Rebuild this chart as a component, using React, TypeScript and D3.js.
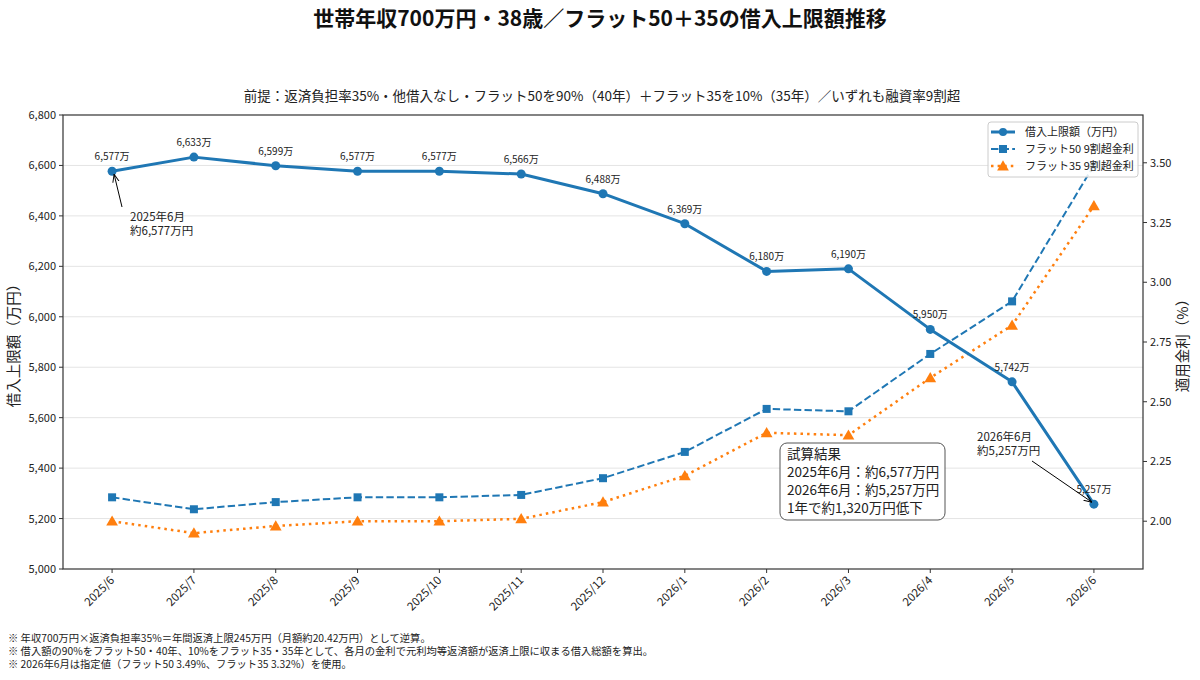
import React from "react";
import * as d3 from "d3";

const months = [
  "2025/6", "2025/7", "2025/8", "2025/9", "2025/10", "2025/11", "2025/12",
  "2026/1", "2026/2", "2026/3", "2026/4", "2026/5", "2026/6",
];
const loanLimit = [6577, 6633, 6599, 6577, 6577, 6566, 6488, 6369, 6180, 6190, 5950, 5742, 5257];
const flat50Rate = [2.1, 2.05, 2.08, 2.1, 2.1, 2.11, 2.18, 2.29, 2.47, 2.46, 2.7, 2.92, 3.49];
const flat35Rate = [2.0, 1.95, 1.98, 2.0, 2.0, 2.01, 2.08, 2.19, 2.37, 2.36, 2.6, 2.82, 3.32];
const leftTicks = [5000, 5200, 5400, 5600, 5800, 6000, 6200, 6400, 6600, 6800];
const rightTicks = [2.0, 2.25, 2.5, 2.75, 3.0, 3.25, 3.5];
const footnotes = [
  "※ 年収700万円×返済負担率35%＝年間返済上限245万円（月額約20.42万円）として逆算。",
  "※ 借入額の90%をフラット50・40年、10%をフラット35・35年として、各月の金利で元利均等返済額が返済上限に収まる借入総額を算出。",
  "※ 2026年6月は指定値（フラット50 3.49%、フラット35 3.32%）を使用。",
];

const W = 1200;
const H = 680;
const left = 63;
const right = 1143;
const top = 115;
const bottom = 569;
const font = "'Noto Sans CJK JP', 'Noto Sans', sans-serif";
const blue = "#1f77b4";
const orange = "#ff7f0e";
const axisColor = "#333";

const x = d3.scaleLinear().domain([-0.6, months.length - 1 + 0.6]).range([left, right]);
const yL = d3.scaleLinear().domain([5000, 6800]).range([bottom, top]);
const yR = d3.scaleLinear().domain([1.8, 3.7]).range([bottom, top]);

const loanLine = d3.line<number>().x((_, i) => x(i)).y((d) => yL(d));
const rateLine = d3.line<number>().x((_, i) => x(i)).y((d) => yR(d));
const tri = d3.symbol(d3.symbolTriangle, 60);

const fmt = d3.format(",");

const App = () => {
  return (
    <svg
      width={W}
      height={H}
      style={{ position: "absolute", left: 0, top: 0, display: "block", background: "#fff", fontFamily: font }}
    >
      <defs>
        <marker id="arr" viewBox="0 0 10 10" refX="10" refY="5" markerWidth="8" markerHeight="8" orient="auto-start-reverse">
          <path d="M0,1 L10,5 L0,9" fill="none" stroke="#000" strokeWidth="1.2" />
        </marker>
      </defs>
      <rect width={W} height={H} fill="#fff" />

      {/* titles */}
      <text x={W / 2} y={26} textAnchor="middle" fontSize={21} fontWeight="bold" fill="#111">
        世帯年収700万円・38歳／フラット50＋35の借入上限額推移
      </text>
      <text x={W / 2 + 2} y={101} textAnchor="middle" fontSize={13.5} fill="#222">
        前提：返済負担率35%・他借入なし・フラット50を90%（40年）＋フラット35を10%（35年）／いずれも融資率9割超
      </text>

      {/* grid */}
      {leftTicks.slice(1, -1).map((t) => (
        <line key={t} x1={left} x2={right} y1={yL(t)} y2={yL(t)} stroke="#e4e4e4" strokeWidth={1} />
      ))}

      {/* rate lines */}
      <path d={rateLine(flat50Rate) || ""} fill="none" stroke={blue} strokeWidth={2} strokeDasharray="7.4,3.2" />
      {flat50Rate.map((d, i) => (
        <rect key={i} x={x(i) - 4} y={yR(d) - 4} width={8} height={8} fill={blue} />
      ))}
      <path d={rateLine(flat35Rate) || ""} fill="none" stroke={orange} strokeWidth={2.5} strokeDasharray="2.5,4.1" />
      {flat35Rate.map((d, i) => (
        <path key={i} d={tri() || ""} transform={`translate(${x(i)},${yR(d) + 1})`} fill={orange} />
      ))}

      {/* loan limit line */}
      <path d={loanLine(loanLimit) || ""} fill="none" stroke={blue} strokeWidth={3} strokeLinejoin="round" />
      {loanLimit.map((d, i) => (
        <g key={i}>
          <circle cx={x(i)} cy={yL(d)} r={4.5} fill={blue} />
          <text x={x(i)} y={yL(d) - 11} textAnchor="middle" fontSize={10} fill="#222">
            {fmt(d)}万
          </text>
        </g>
      ))}

      {/* annotations */}
      <line x1={122} y1={207} x2={x(0) + 2} y2={yL(loanLimit[0]) + 3} stroke="#000" strokeWidth={1} markerEnd="url(#arr)" />
      <text x={130} y={221} fontSize={11.5} fill="#222">2025年6月</text>
      <text x={130} y={235} fontSize={11.5} fill="#222">約6,577万円</text>

      <line x1={1032} y1={461} x2={x(12) - 2} y2={yL(loanLimit[12]) - 2} stroke="#000" strokeWidth={1} markerEnd="url(#arr)" />
      <text x={977} y={441} fontSize={11.5} fill="#222">2026年6月</text>
      <text x={977} y={455} fontSize={11.5} fill="#222">約5,257万円</text>

      <rect x={780} y={443} width={165} height={77} rx={7} fill="#fff" fillOpacity={0.9} stroke="#555" strokeWidth={1} />
      {["試算結果", "2025年6月：約6,577万円", "2026年6月：約5,257万円", "1年で約1,320万円低下"].map((s, i) => (
        <text key={i} x={787} y={459 + i * 18} fontSize={13.5} fill="#222">{s}</text>
      ))}

      {/* axes frame */}
      <rect x={left} y={top} width={right - left} height={bottom - top} fill="none" stroke={axisColor} strokeWidth={1.2} />

      {/* left axis */}
      {leftTicks.map((t) => (
        <g key={t}>
          <line x1={left - 4} x2={left} y1={yL(t)} y2={yL(t)} stroke={axisColor} />
          <text x={left - 7} y={yL(t) + 4} textAnchor="end" fontSize={11} fill="#222">{fmt(t)}</text>
        </g>
      ))}
      <text transform={`translate(19,${(top + bottom) / 2}) rotate(-90)`} textAnchor="middle" fontSize={14.5} fill="#222">
        借入上限額（万円）
      </text>

      {/* right axis */}
      {rightTicks.map((t) => (
        <g key={t}>
          <line x1={right} x2={right + 4} y1={yR(t)} y2={yR(t)} stroke={axisColor} />
          <text x={right + 7} y={yR(t) + 4} fontSize={11} fill="#222">{t.toFixed(2)}</text>
        </g>
      ))}
      <text transform={`translate(1188,${(top + bottom) / 2}) rotate(-90)`} textAnchor="middle" fontSize={14.5} fill="#222">
        適用金利（%）
      </text>

      {/* x axis */}
      {months.map((m, i) => (
        <g key={m}>
          <line x1={x(i)} x2={x(i)} y1={bottom} y2={bottom + 4} stroke={axisColor} />
          <text transform={`translate(${x(i) + 3},${bottom + 12}) rotate(-45)`} textAnchor="end" fontSize={11.5} fill="#222">
            {m}
          </text>
        </g>
      ))}

      {/* legend */}
      <rect x={988} y={122} width={150} height={55} rx={3} fill="#fff" fillOpacity={0.85} stroke="#ccc" />
      <g>
        <line x1={991} x2={1015} y1={132} y2={132} stroke={blue} strokeWidth={3} />
        <circle cx={1003} cy={132} r={4} fill={blue} />
        <text x={1025} y={136} fontSize={11} fill="#222">借入上限額（万円）</text>
        <line x1={991} x2={1015} y1={149} y2={149} stroke={blue} strokeWidth={2} strokeDasharray="7.4,3.2" />
        <rect x={999} y={145} width={8} height={8} fill={blue} />
        <text x={1025} y={153} fontSize={11} fill="#222">フラット50 9割超金利</text>
        <line x1={991} x2={1015} y1={166} y2={166} stroke={orange} strokeWidth={2.5} strokeDasharray="2.5,4.1" />
        <path d={tri() || ""} transform="translate(1003,167)" fill={orange} />
        <text x={1025} y={170} fontSize={11} fill="#222">フラット35 9割超金利</text>
      </g>

      {/* footnotes */}
      {footnotes.map((f, i) => (
        <text key={i} x={8} y={642 + i * 13} fontSize={10.3} fill="#222">{f}</text>
      ))}
    </svg>
  );
};

export default App;
